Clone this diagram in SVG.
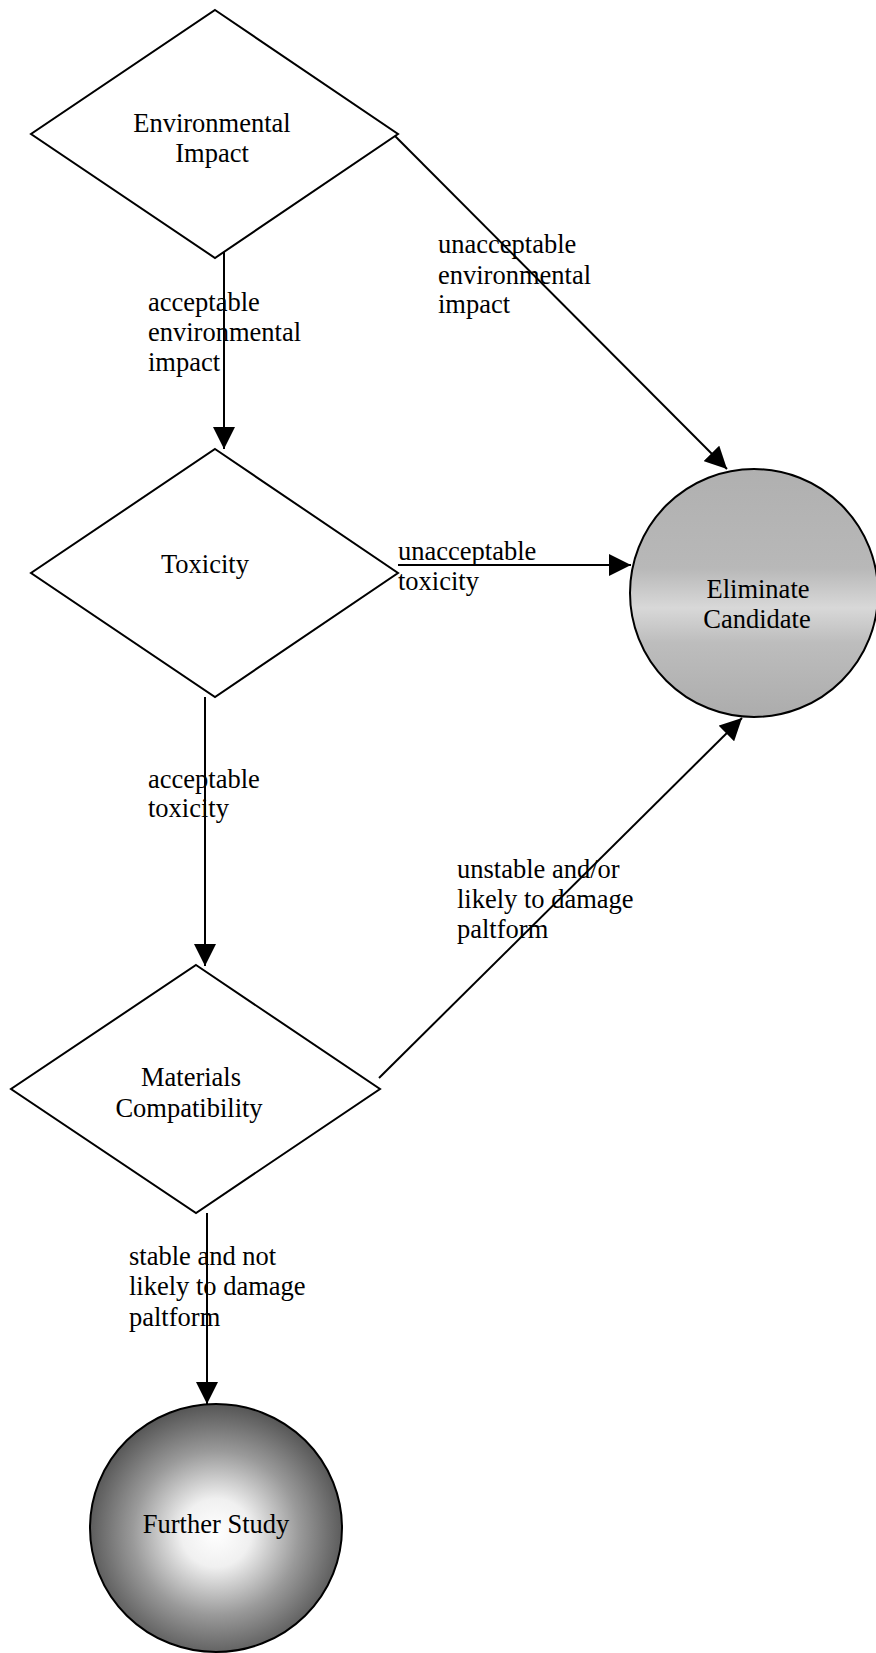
<svg xmlns="http://www.w3.org/2000/svg" width="876" height="1653" viewBox="0 0 876 1653">
<style>
.shape{stroke:#000;stroke-width:2;fill:#fff}
.circ{stroke:#000;stroke-width:2}
.edge{stroke:#000;stroke-width:2;fill:none;marker-end:url(#arrow)}
text{font-family:"Liberation Serif","Times New Roman",serif;font-size:26.5px;fill:#000}
.mid{text-anchor:middle}
</style>
<defs>
<marker id="arrow" markerUnits="userSpaceOnUse" markerWidth="22" markerHeight="22" refX="22" refY="11" orient="auto">
<path d="M0,0 L22,11 L0,22 z" fill="#000"/>
</marker>
<linearGradient id="elimGrad" x1="0" y1="0" x2="0" y2="1">
<stop offset="0" stop-color="#b0b0b0"/>
<stop offset="0.4" stop-color="#b8b8b8"/>
<stop offset="0.56" stop-color="#d8d8d8"/>
<stop offset="0.7" stop-color="#bdbdbd"/>
<stop offset="1" stop-color="#acacac"/>
</linearGradient>
<radialGradient id="furtherGrad" cx="0.5" cy="0.52" r="0.55">
<stop offset="0" stop-color="#ffffff"/>
<stop offset="0.25" stop-color="#f0f0f0"/>
<stop offset="0.6" stop-color="#9a9a9a"/>
<stop offset="1" stop-color="#4a4a4a"/>
</radialGradient>
</defs>

<g id="connectors">
<line class="edge" x1="224" y1="252" x2="224" y2="449"/>
<line class="edge" x1="395" y1="136" x2="727" y2="469"/>
<line class="edge" x1="398" y1="565" x2="631" y2="565"/>
<line class="edge" x1="205" y1="697" x2="205" y2="966"/>
<line class="edge" x1="379" y1="1078" x2="742" y2="718"/>
<line class="edge" x1="207" y1="1213" x2="207" y2="1404"/>
<g id="edge-labels">
<text x="148" y="311">acceptable</text>
<text x="148" y="341">environmental</text>
<text x="148" y="371">impact</text>
<text x="438" y="253">unacceptable</text>
<text x="438" y="284">environmental</text>
<text x="438" y="313">impact</text>
<text x="398" y="560">unacceptable</text>
<text x="398" y="590">toxicity</text>
<text x="148" y="788">acceptable</text>
<text x="148" y="817">toxicity</text>
<text x="457" y="878">unstable and/or</text>
<text x="457" y="908">likely to damage</text>
<text x="457" y="938">paltform</text>
<text x="129" y="1265">stable and not</text>
<text x="129" y="1295">likely to damage</text>
<text x="129" y="1326">paltform</text>
</g>
</g>

<g id="node-environmental">
<polygon class="shape" points="215,10 398,134 215,258 31,134"/>
<text class="mid" x="212" y="132">Environmental</text>
<text class="mid" x="212" y="162">Impact</text>
</g>

<g id="node-toxicity">
<polygon class="shape" points="215,449 398,573 215,697 31,573"/>
<text class="mid" x="205" y="573">Toxicity</text>
</g>

<g id="node-materials">
<polygon class="shape" points="196,965 380,1089 196,1213 11,1089"/>
<text class="mid" x="191" y="1086">Materials</text>
<text class="mid" x="189" y="1117">Compatibility</text>
</g>

<g id="node-eliminate">
<circle class="circ" cx="754" cy="593" r="124" fill="url(#elimGrad)"/>
<text class="mid" x="758" y="598">Eliminate</text>
<text class="mid" x="757" y="628">Candidate</text>
</g>

<g id="node-further">
<ellipse class="circ" cx="216" cy="1528" rx="126" ry="124" fill="url(#furtherGrad)"/>
<text class="mid" x="216" y="1533">Further Study</text>
</g>
</svg>
